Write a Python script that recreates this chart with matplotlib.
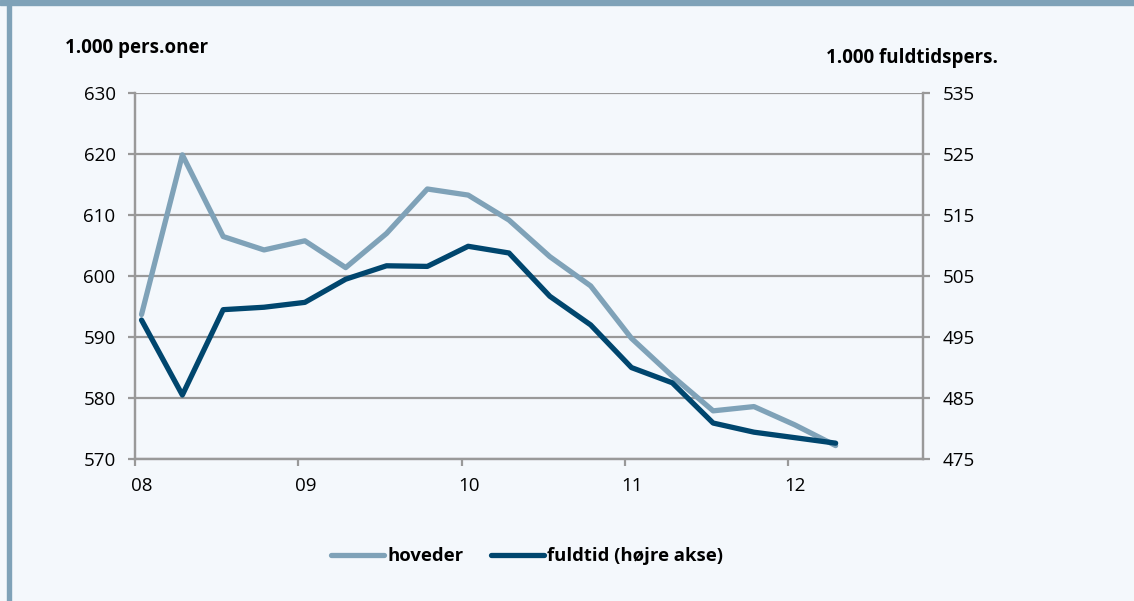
import numpy as np
import matplotlib
matplotlib.use('Agg')
import matplotlib.pyplot as plt
import matplotlib.transforms as mtransforms
from matplotlib.patches import Rectangle
from matplotlib.lines import Line2D

# Kvartaler fra 2008 til 2012
kvartal = np.arange(18)
hoveder = [593.7, 619.9, 606.5, 604.3, 605.8, 601.4, 607.0, 614.3, 613.3,
           609.2, 603.2, 598.4, 589.8, 583.6, 577.9, 578.6, 575.6, 572.2]
fuldtid = [497.8, 485.5, 499.5, 499.9, 500.7, 504.5, 506.7, 506.6, 509.9,
           508.8, 501.7, 497.0, 490.0, 487.5, 480.9, 479.4, 478.5, 477.6]
aar_labels = ['08', '09', '10', '11', '12']

plt.rcParams['font.family'] = ['Open Sans', 'DejaVu Sans']

BG = '#F4F8FC'
LYS = '#7FA2B8'
MORK = '#00466E'
GRID = '#999999'

fig = plt.figure(figsize=(11.34, 6.01), dpi=100, facecolor=BG)

# ramme: bjælke i toppen og streg til venstre
fig.patches.append(Rectangle((0, 1 - 5 / 601), 1, 5 / 601, transform=fig.transFigure,
                             color=LYS, zorder=0))
fig.patches.append(Rectangle((7 / 1134, 0), 3.5 / 1134, 1, transform=fig.transFigure,
                             color=LYS, zorder=0))

ax = fig.add_axes([135 / 1134, (601 - 459) / 601, (923 - 135) / 1134, (459 - 93.3) / 601])
ax.set_facecolor(BG)
ax2 = ax.twinx()

x = 2008 + 0.04 + kvartal * 0.25
ax.plot(x, hoveder, color=LYS, lw=3.8, solid_capstyle='round', zorder=3)
ax2.plot(x, fuldtid, color=MORK, lw=3.8, solid_capstyle='round', zorder=3)

ax.set_xlim(2008, 2012.825)
ax.set_ylim(570, 630)
ax2.set_ylim(475, 535)
ax.set_yticks(np.arange(570, 631, 10))
ax2.set_yticks(np.arange(475, 536, 10))
ax.set_xticks(2008 + np.arange(5))
ax.set_xticklabels(aar_labels)

ax.grid(axis='y', color=GRID, lw=1.6)
ax.set_axisbelow(True)

for a in (ax, ax2):
    a.spines['top'].set_visible(False)
    for s in ('left', 'right', 'bottom'):
        a.spines[s].set_color(GRID)
        a.spines[s].set_linewidth(1.6)
    a.tick_params(colors=GRID, labelcolor='black', labelsize=13.5, length=5, width=1.6)
ax.tick_params(axis='y', pad=9)
ax2.tick_params(axis='y', pad=9)
ax.tick_params(axis='x', pad=8)

# årstal lidt til højre for tick
offset = mtransforms.ScaledTranslation(7 / 100, 0, fig.dpi_scale_trans)
for lbl in ax.get_xticklabels():
    lbl.set_transform(lbl.get_transform() + offset)

fig.text(65 / 1134, 1 - 48 / 601, '1.000 pers.oner', fontsize=13.5, fontweight='bold',
         va='center', ha='left')
fig.text(998 / 1134, 1 - 58 / 601, '1.000 fuldtidspers.', fontsize=13.5, fontweight='bold',
         va='center', ha='right')

handles = [Line2D([], [], color=LYS, lw=3.8, solid_capstyle='round'),
           Line2D([], [], color=MORK, lw=3.8, solid_capstyle='round')]
leg = fig.legend(handles, ['hoveder', 'fuldtid (højre akse)'], loc='center',
                 bbox_to_anchor=(527 / 1134, 1 - 556 / 601), ncol=2, frameon=False,
                 handlelength=2.9, handletextpad=0.15, columnspacing=1.5,
                 prop={'weight': 'bold', 'size': 13.3})

fig.savefig('out.png', dpi=100, facecolor=BG)
